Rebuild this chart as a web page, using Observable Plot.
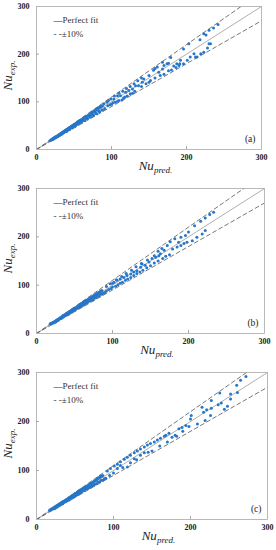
<!DOCTYPE html>
<html><head><meta charset="utf-8">
<script src="https://cdn.jsdelivr.net/npm/d3@7"></script>
<script src="https://cdn.jsdelivr.net/npm/@observablehq/plot@0.6"></script>
<style>
body{margin:0;background:#fff;width:276px;overflow:hidden}
#c svg{display:block}
</style></head><body><div id="c"></div>
<script>
// [Nu_pred, Nu_exp] pairs
const panelA = [
[18,19],[20,20],[21,22],[22,22],[23,24],[24,24],[25,26],[26,26],[27,28],[28,28],[29,30],[30,30],[31,32],[32,32],[33,34],[34,34],[35,36],[36,36],[37,38],[38,39],[39,40],[40,40],[41,42],[42,43],[43,44],[44,44],[45,46],[46,47],[47,48],[48,49],[49,50],[50,51],[51,52],[52,53],[53,54],[54,56],[55,56],[56,58],[57,58],[58,60],[59,60],[60,62],[61,62],[62,64],[63,64],[64,66],[65,66],[66,68],[67,69],[68,70],[70,72],[72,74],[74,77],[76,79],[78,81],[80,84],[82,86],[84,88],[86,90],[88,92],
[20,21],[22,23],[24,25],[26,27],[28,29],[30,31],[32,33],[34,35],[36,37],[38,40],[40,42],[42,44],[44,46],[46,48],[48,50],[50,52],[52,54],[54,57],[56,59],[58,61],[60,63],[62,65],[64,67],[66,69],[68,71],[70,73],[72,75],[74,78],[76,80],[78,82],[80,85],[82,87],[84,89],[86,91],
[22,21],[25,24],[28,27],[31,30],[34,33],[37,36],[39,38],[43,42],[47,45],[51,49],[55,53],[59,57],[63,61],[67,65],[71,68],[75,72],[79,76],[83,80],[87,83],
[26,25],[30,29],[33,32],[36,35],[40,38],[44,42],[48,46],[52,50],[56,54],[60,57],[64,61],[68,65],[72,68],[76,72],[80,75],[84,79],[88,83],[91,86],
[90,96],[94,99],[96,103],[99,106],[103,106],[104,112],[108,113],[110,118],[112,113],[115,122],[119,120],[120,128],[123,124],[125,132],[128,127],[130,138],[132,134],[135,144],[136,134],[141,141],[140,150],[143,148],[150,155],[152,145],[156,166],[161,173],[163,162],[168,169],[170,176],[174,180],[158,170],[168,183],[179,193],[191,180],[192,187],[196,180],[201,187],[205,194],[210,201],[214,194],[219,201],[223,204],[228,213],[230,222],[196,211],[203,222],[218,230],[223,243],[230,250],[236,255],[242,262],[212,194],[183,175],[187,180],[176,181],
[95,92],[98,94],[100,95],[102,98],[105,99],[108,101],[110,103],[114,104],[116,108],[118,110],[121,112],[125,117],[128,118],[131,122],[140,132],[146,138],[150,141],[158,150],[165,155],[170,158],[176,165],[180,167],[186,172],[190,176],[232,222],[226,240]
];
const panelB = [
[18,20],[20,21],[21,21],[22,23],[23,23],[24,25],[25,25],[26,27],[27,27],[28,29],[29,29],[30,31],[31,31],[32,33],[33,33],[34,35],[35,35],[36,37],[37,37],[38,39],[39,39],[40,41],[41,42],[42,42],[43,44],[44,45],[45,45],[46,47],[47,48],[48,48],[49,50],[50,51],[51,51],[52,53],[53,54],[54,55],[55,56],[56,57],[57,58],[58,59],[59,61],[60,61],[61,63],[62,63],[63,65],[64,65],[65,67],[66,68],[67,69],[68,70],[70,72],[72,74],[74,76],[76,78],[78,80],[80,82],[82,85],[84,87],[86,89],
[19,20],[21,22],[23,24],[25,26],[27,28],[29,30],[31,32],[33,34],[35,37],[37,39],[39,41],[41,43],[43,45],[45,47],[47,49],[49,51],[51,53],[53,55],[55,57],[57,60],[59,62],[61,64],[63,66],[65,68],[67,70],[69,72],[71,74],[73,76],[75,78],[77,80],[79,82],[81,84],[83,86],[85,88],
[23,22],[26,25],[29,28],[33,32],[36,35],[40,39],[44,43],[48,47],[52,51],[56,54],[60,58],[64,62],[68,66],[72,69],[76,73],[80,77],[84,81],[88,84],
[25,24],[28,27],[32,31],[35,34],[38,37],[42,40],[46,44],[50,48],[54,52],[58,56],[62,59],[66,63],[70,67],[74,70],[78,74],[82,77],[86,81],[90,85],
[97,103],[102,106],[106,110],[110,113],[115,116],[119,120],[124,123],[128,127],[132,130],[137,137],[139,144],[143,141],[148,148],[152,155],[157,158],[161,161],[163,165],[168,172],[172,182],[179,175],[185,179],[187,189],[190,199],[196,203],[200,210],[190,182],[194,186],[198,189],[205,192],[211,199],[218,206],[222,213],[208,223],[216,232],[222,239],[228,246],[233,251],[176,190],[182,196],
[92,88],[95,91],[98,93],[100,96],[104,98],[107,101],[110,104],[113,106],[117,110],[120,113],[124,116],[128,120],[132,124],[136,127],[140,131],[145,136],[150,140],[155,146],[160,150],[166,155],[170,160],[175,163],
[92,97],[100,104],[105,111],[112,118],[118,124],[125,131],[131,138],[138,145],[146,152],[155,161],[160,170],[165,176]
];
const panelC = [
[17,19],[19,20],[20,21],[21,22],[22,23],[23,24],[24,25],[25,26],[26,27],[27,28],[28,29],[29,30],[30,31],[31,32],[32,33],[33,34],[34,35],[35,36],[36,37],[37,38],[38,39],[39,40],[40,41],[41,42],[42,44],[43,44],[44,46],[45,46],[46,48],[47,48],[48,50],[49,50],[50,52],[51,52],[52,54],[53,55],[54,56],[55,57],[56,58],[57,59],[58,60],[59,61],[60,62],[62,64],[64,66],[66,68],[68,70],[70,72],[72,74],[74,77],[76,79],[78,81],[80,84],[82,86],[84,88],[86,90],
[18,20],[20,22],[22,24],[24,26],[26,28],[28,30],[30,32],[32,34],[34,36],[36,38],[38,40],[40,42],[43,45],[45,47],[47,49],[50,53],[53,56],[55,58],[57,60],[59,62],[61,64],[63,66],[65,68],[67,70],[69,72],[71,74],[73,76],[75,78],[77,80],[79,83],[81,85],[83,87],[85,89],
[23,22],[26,25],[29,28],[32,31],[36,35],[40,39],[44,42],[48,46],[52,50],[56,54],[60,58],[64,62],[68,65],[72,69],[76,72],[80,76],[84,80],[88,83],
[24,23],[27,26],[30,29],[34,32],[38,36],[42,40],[46,44],[50,48],[54,51],[58,55],[62,59],[66,63],[70,66],[74,70],[78,73],[82,77],[86,80],[90,84],
[96,104],[101,109],[105,113],[109,118],[114,123],[118,127],[122,131],[127,136],[131,140],[135,144],[140,148],[144,152],[148,155],[153,158],[157,162],[161,166],[166,170],[168,172],[172,176],[176,168],[182,170],[185,185],[189,188],[194,192],[198,190],[209,195],[219,202],[226,212],[200,205],[201,212],[215,229],[217,219],[221,224],[227,227],[227,243],[236,234],[240,238],[244,225],[248,231],[252,246],[238,258],[252,256],[261,259],[260,274],[265,284],[272,292],
[92,99],[83,89],[105,104],[109,110],[118,107],[127,124],[135,131],[140,136],[95,90],[100,95],[112,106],[122,116],[130,122],[145,137],[150,140],[160,150],[170,158],[180,172],[190,180]
];
const ticks = [0, 100, 200, 300];
const innerTicks = [100, 200];
const refX = [0, 300];
const labels = ["(a)", "(b)", "(c)"];
const legendItems = ["\u2014Perfect fit", "- -\u00b110%"];

const SERIF = "'Liberation Serif', 'Times New Roman', serif";

function panel(points, label, h, m) {
  const [mt, mr, mb, ml] = m;
  const pw = 276 - ml - mr, ph = h - mt - mb;
  const ref = refX.map(x => ({x, y: x, up: x * 1.1, lo: x * 0.9}));
  const pts = points.map(([p, e]) => ({p, e}));
  const chart = Plot.plot({
    width: 276, height: h,
    marginTop: mt, marginRight: mr, marginBottom: mb, marginLeft: ml,
    style: {fontFamily: SERIF, background: "#fff", color: "#222"},
    x: {domain: [0, 300]},
    y: {domain: [0, 300]},
    marks: [
      Plot.line(ref, {x: "x", y: "y", stroke: "#9a9a9a", strokeWidth: 0.8, clip: true}),
      Plot.line(ref, {x: "x", y: "up", stroke: "#555", strokeWidth: 0.8, strokeDasharray: "4,3", clip: true}),
      Plot.line(ref, {x: "x", y: "lo", stroke: "#555", strokeWidth: 0.8, strokeDasharray: "4,3", clip: true}),
      Plot.dot(pts, {x: "p", y: "e", r: 1.5, fill: "#2676c9", stroke: "none"}),
      Plot.frame({stroke: "#a8a8a8", strokeWidth: 0.8}),
      Plot.tickX(innerTicks, {x: d => d, stroke: "#a8a8a8", insetTop: ph - 3}),
      Plot.tickY(innerTicks, {y: d => d, stroke: "#a8a8a8", insetRight: pw - 3}),
      Plot.axisX(ticks, {tickSize: 0, tickPadding: 5, fontSize: 8, fontWeight: "bold", fontFamily: SERIF, label: null}),
      Plot.axisY(ticks, {tickSize: 0, tickPadding: 7, fontSize: 8, fontWeight: "bold", fontFamily: SERIF, label: null}),
      Plot.text([legendItems[0]], {frameAnchor: "top-left", dx: 17, dy: 10, text: d => d, fontSize: 9, fill: "#333", textAnchor: "start"}),
      Plot.text([legendItems[1]], {frameAnchor: "top-left", dx: 17, dy: 24, text: d => d, fontSize: 9, fill: "#333", textAnchor: "start"}),
      Plot.text([label], {frameAnchor: "bottom-right", dx: -6, dy: -8, text: d => d, fontSize: 9.5, fill: "#222", textAnchor: "end"})
    ]
  });
  const svg = d3.select(chart);
  const xs = chart.scale("x"), ys = chart.scale("y");
  const cx = xs.apply(150) + 7;
  const xt = svg.append("text")
    .attr("x", cx).attr("y", h - mb + 21)
    .attr("text-anchor", "middle")
    .style("font-family", SERIF).style("font-style", "italic").style("fill", "#222");
  xt.append("tspan").style("font-size", "13px").text("Nu");
  xt.append("tspan").style("font-size", "9px").attr("dy", 3).text("pred.");
  const cy = ys.apply(150) - 2;
  const yt = svg.append("text")
    .attr("transform", `translate(12,${cy}) rotate(-90)`)
    .attr("text-anchor", "middle")
    .style("font-family", SERIF).style("font-style", "italic").style("fill", "#222");
  yt.append("tspan").style("font-size", "13px").text("Nu");
  yt.append("tspan").style("font-size", "9px").attr("dy", 3).text("exp.");
  return chart;
}

const host = document.getElementById("c");
host.appendChild(panel(panelA, labels[0], 180, [6, 15, 31, 36]));
host.appendChild(panel(panelB, labels[1], 185, [8, 12, 32, 36]));
host.appendChild(panel(panelC, labels[2], 185, [7, 9, 31, 36]));
</script></body></html>
